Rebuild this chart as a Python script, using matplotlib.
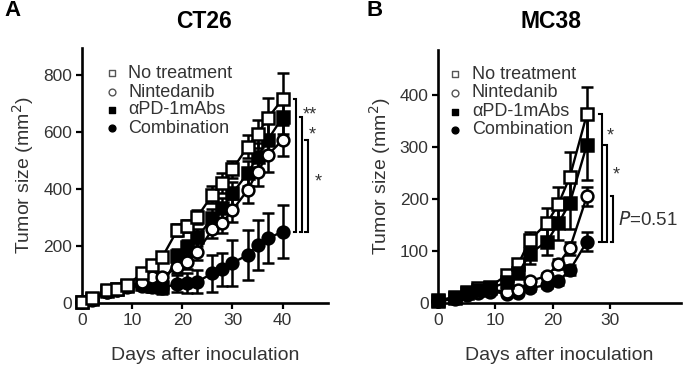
import matplotlib
matplotlib.use("Agg")
import matplotlib.pyplot as plt

plt.rcParams['font.family'] = ['Liberation Sans', 'DejaVu Sans']

# ---------------- data ----------------
labels = ["No treatment", "Nintedanib", "\u03b1PD-1mAbs", "Combination"]

days_A = [0, 2, 5, 7, 9, 12, 14, 16, 19, 21, 23, 26, 28, 30, 33, 35, 37, 40]
nt_A = [5, 17, 45, 50, 62, 105, 135, 161, 256, 270, 303, 380, 420, 469, 548, 593, 648, 716]
nt_A_err = [1, 2, 4, 5, 6, 10, 12, 15, 20, 20, 25, 30, 35, 30, 40, 50, 70, 90]
nin_A = [5, 15, 40, 46, 58, 75, 90, 92, 125, 145, 180, 258, 282, 326, 396, 461, 519, 572]
nin_A_err = [1, 2, 4, 5, 6, 10, 12, 15, 20, 25, 30, 30, 35, 40, 45, 50, 60, 55]
pd1_A = [5, 15, 42, 48, 58, 65, 60, 55, 165, 195, 230, 300, 335, 385, 455, 513, 572, 652]
pd1_A_err = [1, 2, 4, 5, 6, 10, 12, 15, 25, 25, 30, 30, 35, 40, 45, 50, 60, 60]
comb_A = [5, 12, 38, 45, 55, 60, 55, 52, 68, 70, 75, 104, 118, 141, 168, 204, 227, 250]
comb_A_err = [1, 2, 4, 5, 6, 10, 15, 20, 30, 34, 41, 64, 57, 80, 88, 87, 88, 93]

days_B = [0, 3, 5, 7, 9, 12, 14, 16, 19, 21, 23, 26]
nt_B = [5, 12, 22, 28, 31, 54, 75, 121, 153, 190, 242, 363]
nt_B_err = [1, 2, 3, 3, 4, 8, 10, 16, 29, 32, 49, 52]
nin_B = [3, 10, 18, 22, 25, 22, 25, 42, 52, 75, 105, 205]
nin_B_err = [1, 1, 2, 2, 3, 3, 4, 5, 6, 10, 12, 18]
pd1_B = [4, 10, 20, 25, 28, 40, 57, 95, 118, 153, 192, 304]
pd1_B_err = [1, 2, 3, 3, 4, 6, 8, 20, 25, 32, 50, 67]
comb_B = [3, 8, 15, 20, 22, 18, 20, 28, 35, 42, 63, 118]
comb_B_err = [1, 1, 2, 2, 3, 3, 4, 5, 6, 8, 10, 19]

xticks_A = [0, 10, 20, 30, 40]
yticks_A = [0, 200, 400, 600, 800]
xticks_B = [0, 10, 20, 30]
yticks_B = [0, 100, 200, 300, 400]

sig_A = ["**", "*", "*"]
sig_B = ["*", "*", "$\\it{P}$=0.51"]

# ---------------- styles ----------------
TXT = "#333333"
styles = {
    "No treatment": dict(marker='s', mfc='white', mec='black'),
    "Nintedanib": dict(marker='o', mfc='white', mec='black'),
    "\u03b1PD-1mAbs": dict(marker='s', mfc='black', mec='black'),
    "Combination": dict(marker='o', mfc='black', mec='black'),
}
leg_styles = {
    "No treatment": dict(marker='s', facecolors='white', edgecolors='#555555'),
    "Nintedanib": dict(marker='o', facecolors='white', edgecolors='#555555'),
    "\u03b1PD-1mAbs": dict(marker='s', facecolors='black', edgecolors='black'),
    "Combination": dict(marker='o', facecolors='black', edgecolors='black'),
}

fig = plt.figure(figsize=(6.85, 3.71), dpi=100)
W, H = 685, 371

axA = fig.add_axes([82 / W, 1 - 303 / H, 246.3 / W, 254.7 / H])
axB = fig.add_axes([438.3 / W, 1 - 303 / H, 242.4 / W, 253 / H])


def style_axes(ax, xlim, ylim, xt, yt):
    ax.set_xlim(*xlim)
    ax.set_ylim(*ylim)
    ax.set_xticks(xt)
    ax.set_yticks(yt)
    for s in ['top', 'right']:
        ax.spines[s].set_visible(False)
    for s in ['left', 'bottom']:
        ax.spines[s].set_linewidth(1.9)
    ax.tick_params(direction='out', length=4, width=1.6, labelsize=12.5,
                   labelcolor=TXT, pad=3)
    ax.set_xlabel("Days after inoculation", fontsize=14, color=TXT, labelpad=14)
    ax.set_ylabel("Tumor size (mm$^2$)", fontsize=14, color=TXT, labelpad=5)


def draw_series(ax, days, series):
    for lab, vals, errs in series:
        ax.errorbar(days, vals, yerr=errs, fmt='none', ecolor='black',
                    elinewidth=1.8, capsize=4, capthick=1.8, clip_on=False, zorder=2)
    for lab, vals, errs in series:
        st = styles[lab]
        ax.plot(days, vals, color='black', lw=1.7, ms=8.5, mew=1.8,
                clip_on=False, zorder=3, **st)


def draw_legend(ax, xm, xt, ys):
    for lab, y in zip(labels, ys):
        ax.scatter([xm], [y], s=24, linewidths=1.0, transform=ax.transAxes,
                   clip_on=False, zorder=5, **leg_styles[lab])
        ax.text(xt, y, lab, transform=ax.transAxes, fontsize=13, color=TXT,
                va='center', ha='left')


def draw_brackets(ax, xs, tops, bottom, dx, texts, txy, fs):
    for x, t in zip(xs, tops):
        ax.plot([x - dx, x, x, x - dx], [t, t, bottom, bottom], color='black',
                lw=1.5, clip_on=False, solid_joinstyle='miter')
    for s, (tx, ty) in zip(texts, txy):
        ax.text(tx, ty, s, fontsize=fs if s.startswith('*') else 13.5, color=TXT,
                ha='left' if not s.startswith('*') else 'center', va='center')


# Panel A
style_axes(axA, (0, 49.1), (0, 894), xticks_A, yticks_A)
draw_series(axA, days_A, [
    ("\u03b1PD-1mAbs", pd1_A, pd1_A_err),
    ("Combination", comb_A, comb_A_err),
    ("Nintedanib", nin_A, nin_A_err),
    ("No treatment", nt_A, nt_A_err),
])
draw_legend(axA, 0.1206, 0.187, [0.902, 0.827, 0.758, 0.686])
draw_brackets(axA, [42.7, 43.9, 45.0], [nt_A[-1], pd1_A[-1], nin_A[-1]], comb_A[-1],
              0.5, sig_A, [(45.5, 660), (45.9, 590), (47.0, 425)], 13)

# Panel B
style_axes(axB, (0, 42.4), (0, 486), xticks_B, yticks_B)
draw_series(axB, days_B, [
    ("Combination", comb_B, comb_B_err),
    ("Nintedanib", nin_B, nin_B_err),
    ("No treatment", nt_B, nt_B_err),
    ("\u03b1PD-1mAbs", pd1_B, pd1_B_err),
])
draw_legend(axB, 0.069, 0.138, [0.905, 0.832, 0.755, 0.684])
draw_brackets(axB, [28.6, 29.5, 30.6], [nt_B[-1], pd1_B[-1], nin_B[-1]], comb_B[-1],
              0.45, sig_B, [(30.1, 320), (31.1, 246), (31.4, 160)], 13)

# Titles and panel letters
fig.text(204 / W, 1 - 22 / H, "CT26", fontsize=16.5, fontweight='bold', ha='center',
         va='center', color='black')
fig.text(551 / W, 1 - 22 / H, "MC38", fontsize=16.5, fontweight='bold', ha='center',
         va='center', color='black')
fig.text(4 / W, 1 - 11 / H, "A", fontsize=16, fontweight='bold', ha='left',
         va='center', color='black')
fig.text(367 / W, 1 - 11 / H, "B", fontsize=16, fontweight='bold', ha='left',
         va='center', color='black')

fig.savefig("out.png", dpi=100)
